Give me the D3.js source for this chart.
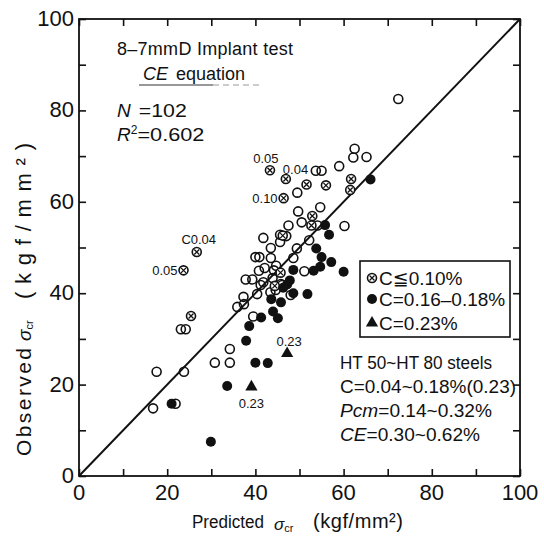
<!DOCTYPE html>
<html>
<head>
<meta charset="utf-8">
<script src="https://cdnjs.cloudflare.com/ajax/libs/d3/7.8.5/d3.min.js"></script>
<style>
  body { margin: 0; background: #fff; }
  svg text { font-family: "Liberation Sans", "DejaVu Sans", sans-serif; fill: #111; }
</style>
</head>
<body>
<div id="chart"></div>
<script>
// [predicted, observed] kgf/mm2
const openPoints = [
  [72.4, 82.5], [62.5, 71.6], [62.2, 69.7], [65.2, 69.8], [59.0, 67.8], [53.7, 66.8], [55.0, 66.8],
  [49.5, 62.0], [49.7, 57.9], [54.7, 58.8], [47.5, 54.8], [54.1, 54.8], [60.2, 54.7], [41.8, 52.1],
  [45.6, 52.8], [47.0, 52.5], [45.6, 51.2], [52.2, 51.6], [43.5, 49.9], [49.4, 49.8], [40.0, 47.9],
  [40.9, 47.9], [43.5, 47.7], [48.6, 47.7], [44.7, 46.0], [44.2, 45.0], [40.8, 44.9], [51.1, 44.8],
  [37.8, 43.0], [39.3, 43.0], [41.8, 42.4], [43.9, 43.3], [45.8, 42.0], [41.2, 41.8], [44.6, 40.7],
  [40.4, 39.8], [48.0, 39.6], [37.3, 39.2], [35.9, 37.0], [37.4, 37.6], [39.5, 34.9], [34.2, 27.8],
  [34.2, 24.8], [30.8, 24.8], [23.8, 22.8], [17.6, 22.8], [23.1, 32.1], [24.2, 32.1], [16.8, 14.8],
  [21.9, 15.8], [43.4, 40.2], [46.1, 41.8], [42.1, 45.5], [50.5, 55.5]
];
const crossedPoints = [
  [43.3, 66.9], [46.9, 65.0], [46.4, 60.8], [51.6, 63.8], [56.0, 63.6], [61.7, 65.0], [61.5, 62.6],
  [26.7, 49.0], [23.7, 45.0], [25.4, 35.0], [52.9, 56.9], [52.7, 54.8], [45.7, 44.5], [46.2, 52.6],
  [44.4, 41.6]
];
const filledPoints = [
  [66.1, 64.9], [55.8, 54.9], [56.7, 52.8], [53.8, 49.8], [55.0, 47.9], [57.2, 46.8], [54.7, 45.8],
  [53.2, 44.9], [60.0, 44.7], [48.6, 45.1], [47.2, 41.9], [48.6, 40.0], [51.8, 39.8], [43.6, 38.7],
  [45.8, 38.0], [44.0, 36.0], [45.1, 34.5], [41.3, 34.7], [38.6, 32.8], [37.9, 29.6], [40.0, 24.8],
  [42.8, 24.7], [33.6, 19.7], [21.0, 15.8], [29.9, 7.5], [47.8, 42.8], [46.3, 41.2]
];
const trianglePoints = [[39.1, 19.5], [47.2, 26.8]];

// carbon content notes next to some points: text, point x, point y
const pointNotes = [
  ['0.05', 43.3, 66.9], ['0.04', 46.9, 65.0], ['0.10', 46.4, 60.8],
  ['C0.04', 26.7, 49.0], ['0.05', 23.7, 45.0], ['0.23', 47.2, 26.8], ['0.23', 39.1, 19.5]
];

const tickValues = [0, 20, 40, 60, 80, 100];
const minorTicks = d3.range(0, 101, 10);

const legendItems = ['C≦0.10%', 'C=0.16–0.18%', 'C=0.23%'];
const steelNotes = ['HT 50~HT 80  steels', 'C=0.04~0.18%(0.23)', 'Pcm=0.14~0.32%', 'CE=0.30~0.62%'];

const svgWidth = 544, svgHeight = 540;
const plotLeft = 79, plotRight = 520, plotTop = 19, plotBottom = 476;

const svg = d3.select('#chart').append('svg')
  .attr('width', svgWidth)
  .attr('height', svgHeight);

const x = d3.scaleLinear().domain([0, 100]).range([plotLeft, plotRight]);
const y = d3.scaleLinear().domain([0, 100]).range([plotBottom, plotTop]);

// frame with inward ticks on every side
svg.append('rect')
  .attr('x', plotLeft).attr('y', plotTop)
  .attr('width', plotRight - plotLeft).attr('height', plotBottom - plotTop)
  .attr('fill', 'none').attr('stroke', '#111').attr('stroke-width', 1.8);

const tickLen = 7;
svg.append('g').call(d3.axisBottom(x).tickValues(minorTicks).tickSize(-tickLen).tickFormat(''))
  .attr('transform', 'translate(0,' + plotBottom + ')');
svg.append('g').call(d3.axisTop(x).tickValues(minorTicks).tickSize(-tickLen).tickFormat(''))
  .attr('transform', 'translate(0,' + plotTop + ')');
svg.append('g').call(d3.axisLeft(y).tickValues(minorTicks).tickSize(-tickLen).tickFormat(''))
  .attr('transform', 'translate(' + plotLeft + ',0)');
svg.append('g').call(d3.axisRight(y).tickValues(minorTicks).tickSize(-tickLen).tickFormat(''))
  .attr('transform', 'translate(' + plotRight + ',0)');
svg.selectAll('.domain').remove();
svg.selectAll('.tick line').attr('stroke', '#111').attr('stroke-width', 1.6);

// tick labels
svg.append('g').selectAll('text')
  .data(tickValues)
  .enter().append('text')
  .attr('x', d => x(d))
  .attr('y', plotBottom + 24)
  .attr('text-anchor', 'middle')
  .attr('font-size', 22)
  .text(d => d);

svg.append('g').selectAll('text')
  .data(tickValues)
  .enter().append('text')
  .attr('x', plotLeft - 5)
  .attr('y', d => y(d) + 7)
  .attr('text-anchor', 'end')
  .attr('font-size', 22)
  .text(d => d);

// axis titles
svg.append('text').attr('x', 192).attr('y', 528).attr('font-size', 18)
  .attr('textLength', 72).attr('lengthAdjust', 'spacingAndGlyphs').text('Predicted');
const xs = svg.append('text').attr('x', 274).attr('y', 530).attr('font-size', 17);
xs.append('tspan').attr('font-style', 'italic').text('σ');
xs.append('tspan').attr('font-size', 11).attr('dy', 2).text('cr');
svg.append('text').attr('x', 313).attr('y', 528).attr('font-size', 20)
  .attr('textLength', 90).text('(kgf/mm²)');

const yt = svg.append('g').attr('transform', 'translate(31,0) rotate(-90)');
yt.append('text').attr('x', -456).attr('y', 0).attr('font-size', 21)
  .attr('textLength', 108).text('Observed');
const ys = yt.append('text').attr('x', -341).attr('y', 0).attr('font-size', 19);
ys.append('tspan').attr('font-style', 'italic').text('σ');
ys.append('tspan').attr('font-size', 11).attr('dy', 2).text('cr');
yt.append('text').attr('x', -299).attr('y', 0).attr('font-size', 22)
  .attr('textLength', 156).text('(kgf/mm²)');

// 1:1 line
svg.append('line')
  .attr('x1', x(0)).attr('y1', y(0))
  .attr('x2', x(100)).attr('y2', y(100))
  .attr('stroke', '#111').attr('stroke-width', 2);

// markers
const r = 4.5;
svg.append('g').selectAll('circle')
  .data(openPoints)
  .enter().append('circle')
  .attr('cx', d => x(d[0])).attr('cy', d => y(d[1])).attr('r', r)
  .attr('fill', 'none').attr('stroke', '#111').attr('stroke-width', 1.6);

const cross = 'M-2.5,-2.5L2.5,2.5M-2.5,2.5L2.5,-2.5';
const crossed = svg.append('g').selectAll('g')
  .data(crossedPoints)
  .enter().append('g')
  .attr('transform', d => 'translate(' + x(d[0]) + ',' + y(d[1]) + ')');
crossed.append('circle').attr('r', r)
  .attr('fill', '#fff').attr('stroke', '#111').attr('stroke-width', 1.6);
crossed.append('path').attr('d', cross)
  .attr('stroke', '#111').attr('stroke-width', 1.3);

svg.append('g').selectAll('circle')
  .data(filledPoints)
  .enter().append('circle')
  .attr('cx', d => x(d[0])).attr('cy', d => y(d[1])).attr('r', r + 0.5)
  .attr('fill', '#111');

const tri = d3.symbol().type(d3.symbolTriangle).size(65);
svg.append('g').selectAll('path')
  .data(trianglePoints)
  .enter().append('path')
  .attr('d', tri)
  .attr('transform', d => 'translate(' + x(d[0]) + ',' + y(d[1]) + ')')
  .attr('fill', '#111');

// point notes: offsets in px from the point
const noteOffsets = [[-4, -7, 'middle'], [-3, -5, 'start'], [-6, 5, 'end'], [2, -8, 'middle'],
  [-6, 5, 'end'], [2, -8, 'middle'], [0, 21, 'middle']];
svg.append('g').selectAll('text')
  .data(pointNotes)
  .enter().append('text')
  .attr('x', (d, i) => x(d[1]) + noteOffsets[i][0])
  .attr('y', (d, i) => y(d[2]) + noteOffsets[i][1])
  .attr('text-anchor', (d, i) => noteOffsets[i][2])
  .attr('font-size', 13)
  .text(d => d[0]);

// header notes
svg.append('text').attr('x', 117).attr('y', 55).attr('font-size', 18)
  .attr('textLength', 176).text('8–7mmD  Implant  test');
const t2 = svg.append('text').attr('x', 143).attr('y', 80).attr('font-size', 18);
t2.append('tspan').attr('font-style', 'italic').text('CE');
t2.append('tspan').attr('dx', 8).text('equation');
svg.append('line').attr('x1', 139).attr('x2', 213).attr('y1', 85).attr('y2', 85)
  .attr('stroke', '#333').attr('stroke-width', 1.2);
svg.append('line').attr('x1', 213).attr('x2', 263).attr('y1', 85).attr('y2', 85)
  .attr('stroke', '#999').attr('stroke-width', 1).attr('stroke-dasharray', '6,4');

const t3 = svg.append('text').attr('x', 117).attr('y', 117).attr('font-size', 19);
t3.append('tspan').attr('font-style', 'italic').text('N');
t3.append('tspan').attr('dx', 8).attr('textLength', 48).attr('lengthAdjust', 'spacingAndGlyphs').text('=102');
const t4 = svg.append('text').attr('x', 117).attr('y', 141).attr('font-size', 19);
t4.append('tspan').attr('font-style', 'italic').text('R');
t4.append('tspan').attr('font-size', 12).attr('dy', -7).text('2');
t4.append('tspan').attr('dy', 7).attr('textLength', 67).attr('lengthAdjust', 'spacingAndGlyphs').text('=0.602');

// legend
const lg = svg.append('g');
lg.append('rect').attr('x', 360).attr('y', 261).attr('width', 150).attr('height', 76)
  .attr('fill', '#fff').attr('stroke', '#111').attr('stroke-width', 1.6);
const rows = lg.selectAll('g')
  .data(legendItems)
  .enter().append('g')
  .attr('transform', (d, i) => 'translate(372,' + [278, 299, 323][i] + ')');
rows.append('text').attr('x', 7).attr('y', 7).attr('font-size', 19).text(d => d);
rows.filter((d, i) => i === 0).append('circle').attr('r', r)
  .attr('fill', '#fff').attr('stroke', '#111').attr('stroke-width', 1.6);
rows.filter((d, i) => i === 0).append('path').attr('d', cross)
  .attr('stroke', '#111').attr('stroke-width', 1.3);
rows.filter((d, i) => i === 1).append('circle').attr('r', r + 0.5).attr('fill', '#111');
rows.filter((d, i) => i === 2).append('path').attr('d', tri).attr('fill', '#111');

// steel notes
const noteWidths = [152, 176, 152, 140];
const sn = svg.append('g').selectAll('text')
  .data(steelNotes)
  .enter().append('text')
  .attr('x', 340)
  .attr('y', (d, i) => 369 + i * 24)
  .attr('font-size', 18)
  .attr('textLength', (d, i) => noteWidths[i])
  .attr('lengthAdjust', 'spacingAndGlyphs');
sn.each(function (d) {
  const t = d3.select(this);
  const m = d.match(/^(Pcm|CE)(.*)$/);
  if (m) {
    t.append('tspan').attr('font-style', 'italic').text(m[1]);
    t.append('tspan').text(m[2]);
  } else {
    t.text(d);
  }
});
</script>
</body>
</html>
